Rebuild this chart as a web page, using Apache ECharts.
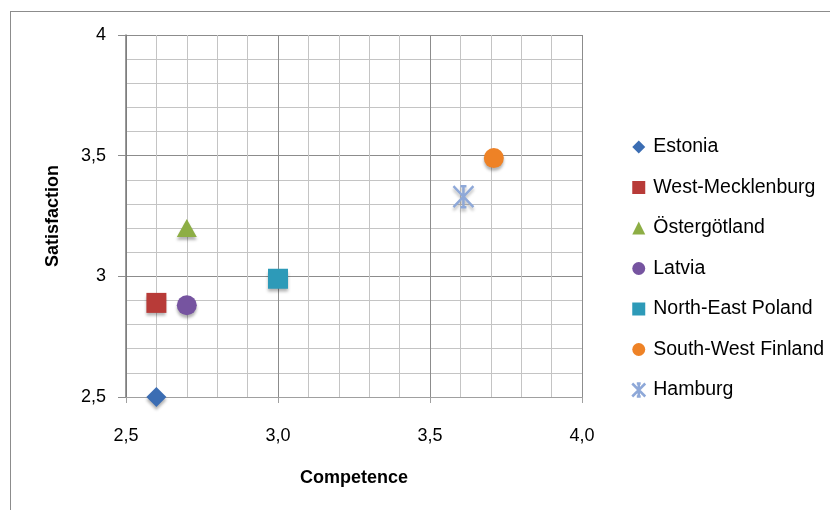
<!DOCTYPE html>
<html>
<head>
<meta charset="utf-8">
<script src="https://cdn.jsdelivr.net/npm/echarts@6/dist/echarts.min.js"></script>
<style>
  html, body { margin: 0; padding: 0; background: #fff; }
  #frame { position: absolute; left: 10px; top: 11px; width: 840px; height: 520px; border: 1px solid #8c8c8c; box-sizing: border-box; }
  #chart { width: 830px; height: 510px; position: absolute; left: 0; top: 0; }
</style>
</head>
<body>
<div id="frame"></div>
<div id="chart"></div>
<script>
// Regions and their scores
const regions = ['Estonia', 'West-Mecklenburg', 'Östergötland', 'Latvia', 'North-East Poland', 'South-West Finland', 'Hamburg'];
const competence = [2.6, 2.6, 2.7, 2.7, 3.0, 3.71, 3.61];
const satisfaction = [2.5, 2.89, 3.2, 2.88, 2.99, 3.49, 3.33];

// Axis tick labels (decimal comma)
const xTickValues = [2.5, 3.0, 3.5, 4.0];
const xTickLabels = ['2,5', '3,0', '3,5', '4,0'];
const yTickValues = [2.5, 3.0, 3.5, 4.0];
const yTickLabels = ['2,5', '3', '3,5', '4'];

const colors = ['#3B6DB3', '#B83B38', '#8DAE45', '#7654A0', '#2D9AB8', '#EE8226', '#8EA8D8'];
const asterisk = 'path://M0,0L10,10M10,0L0,10M5,0L5,10M3.5,0L6.5,0M3.5,10L6.5,10';
const symbols = ['diamond', 'rect', 'triangle', 'circle', 'rect', 'circle', asterisk];
const sizes = [20, 20, [20, 18], 20, 20, 20, [20, 21]];
const fontFamily = 'Liberation Sans, Arial, sans-serif';

function pickLabel(values, labels, v) {
  for (let i = 0; i < values.length; i++) {
    if (Math.abs(values[i] - v) < 1e-6) return labels[i];
  }
  return '';
}

const series = regions.map((name, i) => {
  const star = i === 6;
  return {
    name: name,
    type: 'scatter',
    symbol: symbols[i],
    symbolSize: sizes[i],
    data: [[competence[i], satisfaction[i]]],
    itemStyle: star ? {
      opacity: 1,
      color: 'rgba(0,0,0,0)',
      borderColor: colors[i],
      borderWidth: 2.5,
      shadowColor: 'rgba(0,0,0,0.25)',
      shadowBlur: 3,
      shadowOffsetY: 3
    } : {
      opacity: 1,
      color: colors[i],
      shadowColor: 'rgba(0,0,0,0.3)',
      shadowBlur: 3,
      shadowOffsetY: 3
    },
    emphasis: { disabled: true }
  };
});

const chart = echarts.init(document.getElementById('chart'), null, { renderer: 'canvas' });
chart.setOption({
  animation: false,
  backgroundColor: 'transparent',
  textStyle: { fontFamily: fontFamily },
  grid: { left: 126, right: 248, top: 35, bottom: 113, containLabel: false },
  xAxis: {
    type: 'value',
    min: 2.5, max: 4.0, interval: 0.5,
    name: 'Competence',
    nameLocation: 'middle',
    nameGap: 72,
    nameTextStyle: { fontSize: 18, fontWeight: 'bold', color: '#000', fontFamily: fontFamily },
    axisLine: { show: true, onZero: false, lineStyle: { color: '#a0a0a0', width: 1 } },
    axisTick: { show: true, inside: false, length: 6, lineStyle: { color: '#a0a0a0' } },
    axisLabel: {
      fontSize: 18, color: '#000', margin: 30,
      formatter: v => pickLabel(xTickValues, xTickLabels, v)
    },
    splitLine: { show: true, lineStyle: { color: '#8c8c8c', width: 1 } },
    minorTick: { show: false, splitNumber: 5 },
    minorSplitLine: { show: true, lineStyle: { color: '#c4c4c4', width: 1 } }
  },
  yAxis: {
    type: 'value',
    min: 2.5, max: 4.0, interval: 0.5,
    name: 'Satisfaction',
    nameLocation: 'middle',
    nameGap: 64,
    nameRotate: 90,
    nameTextStyle: { fontSize: 18, fontWeight: 'bold', color: '#000', fontFamily: fontFamily },
    axisLine: { show: true, onZero: false, lineStyle: { color: '#7a7a7a', width: 1.5 } },
    axisTick: { show: true, inside: false, length: 8, lineStyle: { color: '#8c8c8c' } },
    axisLabel: {
      fontSize: 18, color: '#000', margin: 20,
      formatter: v => pickLabel(yTickValues, yTickLabels, v)
    },
    splitLine: { show: true, lineStyle: { color: '#8c8c8c', width: 1 } },
    minorTick: { show: false, splitNumber: 5 },
    minorSplitLine: { show: true, lineStyle: { color: '#c4c4c4', width: 1 } }
  },
  legend: {
    orient: 'vertical',
    left: 626,
    top: 132,
    itemWidth: 13,
    itemHeight: 13,
    itemGap: 20.5,
    selectedMode: false,
    textStyle: { fontSize: 19.5, color: '#000', lineHeight: 20, padding: [0, 0, 0, 3] },
    data: regions.map((name, i) => ({
      name: name,
      icon: symbols[i],
      itemStyle: i === 6 ? { opacity: 1, color: 'rgba(0,0,0,0)', borderColor: colors[i], borderWidth: 2.5, shadowBlur: 0, shadowOffsetY: 0 }
                         : { opacity: 1, color: colors[i], shadowBlur: 0, shadowOffsetY: 0 }
    }))
  },
  series: series
});
</script>
</body>
</html>
